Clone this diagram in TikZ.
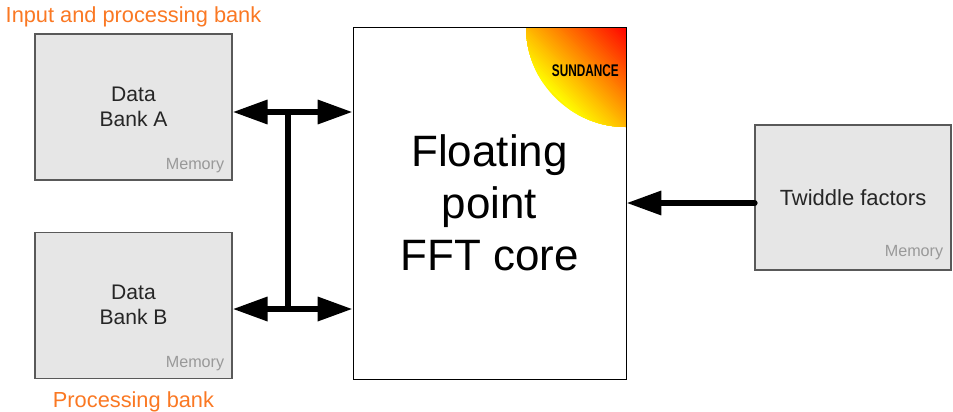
\documentclass[tikz,border=0pt]{standalone}
\usepackage{fontspec}
\setmainfont{Liberation Sans}
\usetikzlibrary{positioning}
\usetikzlibrary{calc}
\usetikzlibrary{arrows.meta}

\definecolor{bankorange}{RGB}{250,120,35}
\definecolor{memgray}{RGB}{230,230,230}

\begin{document}
\begin{tikzpicture}[>={Triangle[length=0.7cm,width=0.46cm]},auto,node distance=1.02cm,
			font=\fontsize{12}{14.5}\selectfont]
			\tikzstyle{memory}=[draw=black!65,fill=memgray,line width=0.6pt,minimum width=3.94cm,minimum height=2.92cm,inner sep=0pt,align=center,text=black!85]
			\tikzstyle{memlabel}=[font=\fontsize{9.2}{11}\selectfont,text=black!40,inner sep=0pt]
			\tikzstyle{banklabel}=[text=bankorange,inner sep=0pt,font=\fontsize{12.4}{14.5}\selectfont]
			\tikzstyle{bus}=[<->,line width=3.6pt]
			
			\useasboundingbox (0,0) rectangle (19.06,-8.22);
			
			\node[memory]       (bankA) at (2.67,-2.14)    {Data\\Bank A};
			\node[memory]       (bankB) [below=of bankA]   {Data\\Bank B};
			\node[memory,minimum width=3.92cm,minimum height=2.90cm,font=\fontsize{12.5}{14.5}\selectfont] (twiddle) at (17.06,-3.95) {Twiddle factors};
			\node[draw,fill=white,minimum width=5.46cm,minimum height=7.04cm,align=center,
				font=\fontsize{25}{29.5}\selectfont,
				path picture={
					\coordinate (sun) at (path picture bounding box.north east);
					\clip (sun) circle (2cm);
					\foreach \i in {0,...,49} {
						\pgfmathtruncatemacro\p{2*\i}
						\fill[red!\p!yellow] (sun) -- ++({-2.83*(50-\i)/50},0) -- ++({2.83*(50-\i)/50},{-2.83*(50-\i)/50}) -- cycle;
					}
				}]
				(core) at (9.79,-4.06) {Floating\\point\\FFT core};
			\node[font=\bfseries\fontsize{9.6}{11}\selectfont,inner sep=0pt] (logo) at ($(core.north east)+(-0.82,-0.88)$) {\scalebox{0.7}[1]{SUNDANCE}};
			
			\node[banklabel]    (inLabel) [above=0.13cm of bankA]   {Input and processing bank};
			\node[banklabel]    (procLabel) [below=0.26cm of bankB] {Processing bank};
			\node[memlabel]     (memA) [above left=0.15cm and 0.16cm of bankA.south east]   {Memory};
			\node[memlabel]     (memB) [above left=0.15cm and 0.16cm of bankB.south east]   {Memory};
			\node[memlabel]     (memT) [above left=0.2cm and 0.16cm of twiddle.south east]  {Memory};
			
			\coordinate (busA) at (5.76,-2.24);
			\coordinate (busB) at (5.76,-6.18);
			
			\path (bankA.east |- busA) edge[bus] (core.west |- busA)
			(bankB.east |- busB) edge[bus] (core.west |- busB)
			(busA) edge[line width=3.6pt] (busB)
			(twiddle.west |- core.east) edge[->,line width=3.6pt,line cap=round] (core.east);
\end{tikzpicture}
\end{document}
